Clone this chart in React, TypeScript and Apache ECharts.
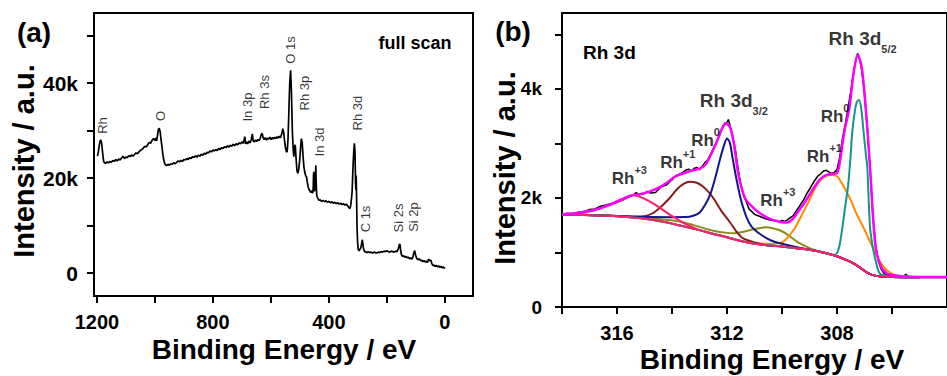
import React, { useEffect, useRef } from 'react';
import * as echarts from 'echarts';

const FONT = '"Liberation Sans", Arial, Helvetica, sans-serif';

// ---------- Panel (a): full survey scan ----------
const surveyScan: [number, number][] = [
  [1198, 24600], [1195, 25500], [1192, 26800], [1189, 27800], [1186, 28000], [1183, 27000], [1180, 25200],
  [1177, 23600], [1174, 23200], [1170, 23100], [1165, 23400], [1160, 23200], [1155, 23500], [1150, 23300],
  [1145, 23700], [1140, 23500], [1135, 23900], [1130, 23600], [1125, 24000], [1120, 23800], [1115, 24200],
  [1110, 24600], [1105, 24100], [1100, 24400], [1095, 24300], [1090, 24700], [1085, 24500], [1080, 24900],
  [1075, 24600], [1070, 25000], [1065, 25300], [1060, 25100], [1055, 25500], [1050, 25800], [1045, 26000],
  [1040, 26300], [1035, 26700], [1030, 26500], [1025, 27000], [1020, 27500], [1015, 27300], [1010, 27900],
  [1005, 28300], [1000, 27900], [997, 28400], [994, 27800], [991, 29000], [988, 30200], [985, 30500],
  [982, 29800], [979, 28200], [976, 26800], [973, 25200], [970, 24000], [967, 23200], [964, 22800],
  [960, 22600], [955, 22900], [950, 22700], [945, 23000], [940, 22900], [935, 23200], [930, 23000],
  [925, 23300], [920, 23600], [915, 23400], [910, 23700], [905, 23500], [900, 23900], [895, 23800],
  [890, 24100], [885, 23900], [880, 24300], [875, 24100], [870, 24500], [865, 24300], [860, 24700],
  [855, 24400], [850, 24800], [845, 24600], [840, 25000], [835, 24800], [830, 25200], [825, 25000],
  [820, 25400], [815, 25300], [810, 25700], [805, 25500], [800, 25900], [795, 25700], [790, 26000],
  [785, 25800], [780, 26200], [775, 26000], [770, 26400], [765, 26200], [760, 26600], [755, 26400],
  [750, 26800], [745, 26500], [740, 26900], [735, 26700], [730, 27100], [725, 26800], [720, 27200],
  [715, 27000], [710, 27400], [705, 27200], [700, 27600], [695, 27300], [690, 28700], [687, 27200],
  [684, 27600], [680, 27200], [676, 27800], [672, 27400], [668, 28000], [664, 29300], [661, 27800],
  [657, 27600], [653, 28000], [649, 27700], [645, 28100], [641, 27900], [637, 28300], [633, 29200],
  [630, 29400], [627, 28500], [623, 28100], [619, 28500], [615, 28000], [611, 28400], [607, 28200],
  [603, 28600], [599, 28100], [595, 28500], [591, 28200], [587, 28600], [583, 28300], [579, 28700],
  [575, 28400], [571, 28800], [567, 28500], [563, 29200], [559, 30400], [556, 29600], [553, 28000],
  [550, 26500], [547, 25600], [544, 25500], [541, 28000], [538, 34000], [535, 40000], [532, 42700],
  [529, 38000], [526, 30000], [523, 26000], [521, 24500], [519, 26500], [516, 27000], [513, 24000],
  [510, 21500], [507, 21000], [504, 21800], [501, 23500], [498, 26000], [495, 28300], [492, 27500],
  [489, 24500], [486, 22300], [483, 21200], [480, 20500], [477, 20200], [474, 19000], [471, 18000],
  [468, 17500], [465, 17300], [462, 16900], [459, 17300], [456, 16800], [454, 17900], [453, 20500],
  [452, 21300], [451, 19000], [450, 17200], [448, 17600], [446, 21000], [445, 22700], [444, 19500],
  [442, 16400], [440, 16000], [437, 15600], [434, 15300], [430, 15400], [425, 15100], [420, 15300],
  [415, 15000], [410, 15200], [405, 14900], [400, 15100], [395, 14800], [390, 15000], [385, 14700],
  [380, 14900], [375, 14600], [370, 14800], [365, 14500], [360, 14700], [355, 14400], [350, 14600],
  [345, 14300], [340, 14500], [335, 14100], [330, 13700], [327, 13600], [324, 14500], [320, 17000],
  [317, 22000], [314, 26000], [312, 27300], [310, 25500], [308, 19000], [307, 17500], [306, 20500],
  [305, 18000], [303, 10000], [301, 6500], [299, 5000], [296, 4700], [293, 5000], [290, 5300],
  [287, 6200], [285, 7000], [283, 6300], [281, 5200], [279, 4800], [276, 4500], [272, 4400],
  [268, 4300], [264, 4500], [260, 4300], [255, 4400], [250, 4200], [245, 4400], [240, 4300],
  [235, 4200], [230, 4400], [225, 4300], [220, 4500], [215, 4400], [210, 4600], [205, 4500],
  [200, 4700], [195, 4500], [190, 4400], [185, 4600], [180, 4500], [175, 4400], [170, 4600],
  [165, 4500], [160, 5200], [157, 6000], [155, 6100], [153, 5000], [150, 3900], [146, 3500],
  [142, 3600], [138, 3300], [134, 3500], [130, 3200], [126, 3300], [122, 3000], [118, 3200],
  [114, 2900], [110, 3400], [107, 4300], [104, 4700], [101, 3800], [98, 3200], [95, 2900],
  [92, 2800], [88, 3000], [84, 2600], [80, 2700], [76, 2400], [72, 2600], [68, 2300], [64, 2500],
  [60, 2200], [56, 2900], [52, 2600], [48, 2700], [45, 2000], [42, 1600], [38, 1700], [34, 1400],
  [30, 1600], [26, 1300], [22, 1500], [18, 1200], [14, 1400], [10, 1100], [6, 1300], [2, 1000], [0, 1200],
];

const surveyPeakNames = ['Rh', 'O', 'In 3p', 'Rh 3s', 'O 1s', 'Rh 3p', 'In 3d', 'Rh 3d', 'C 1s', 'Si 2s', 'Si 2p'];
const surveyPeakAnchors: [number, number][] = [
  [1179, 31050], [979, 33050], [679, 34940], [621, 38100], [531, 46940], [483, 37890],
  [431, 27575], [300, 33680], [272, 11370], [159, 11580], [107, 11790],
];

const surveyXTicks = [0, 200, 400, 600, 800, 1000, 1200];
const surveyXLabels = [0, 400, 800, 1200];
const surveyYTicks = [0, 10000, 20000, 30000, 40000, 50000];
const surveyYLabels = [0, 20000, 40000];

// ---------- Panel (b): Rh 3d high resolution ----------
const rhRaw: [number, number][] = [
  [318.0, 1690], [317.8, 1720], [317.6, 1700], [317.4, 1740], [317.2, 1750], [317.0, 1790], [316.8, 1800],
  [316.6, 1850], [316.4, 1870], [316.2, 1900], [316.0, 1920], [315.8, 1960], [315.6, 2010], [315.4, 2060],
  [315.3, 2100], [315.2, 2060], [315.0, 2080], [314.9, 2120], [314.8, 2090], [314.6, 2100], [314.5, 2150],
  [314.4, 2200], [314.2, 2240], [314.1, 2290], [314.0, 2330], [313.9, 2390], [313.8, 2420], [313.6, 2470],
  [313.5, 2510], [313.4, 2530], [313.3, 2490], [313.2, 2540], [313.1, 2560], [313.0, 2520], [312.9, 2580],
  [312.8, 2650], [312.7, 2700], [312.6, 2800], [312.5, 2900], [312.4, 3000], [312.3, 3120], [312.2, 3250],
  [312.1, 3340], [312.0, 3390], [311.95, 3440], [311.9, 3350], [311.8, 3150], [311.7, 2900], [311.6, 2550],
  [311.5, 2250], [311.4, 2050], [311.3, 1930], [311.2, 1800], [311.0, 1700], [310.8, 1660], [310.6, 1620],
  [310.4, 1590], [310.2, 1580], [310.1, 1560], [310.0, 1590], [309.9, 1570], [309.8, 1600], [309.7, 1640],
  [309.6, 1670], [309.5, 1750], [309.4, 1820], [309.3, 1900], [309.2, 1980], [309.1, 2080], [309.0, 2160],
  [308.9, 2250], [308.8, 2330], [308.7, 2400], [308.6, 2440], [308.5, 2490], [308.4, 2510], [308.3, 2480],
  [308.2, 2450], [308.1, 2470], [308.0, 2520], [307.9, 2750], [307.8, 3100], [307.7, 3350], [307.6, 3650],
  [307.5, 3950], [307.4, 4300], [307.3, 4560], [307.25, 4650], [307.2, 4600], [307.1, 4350], [307.0, 3900],
  [306.9, 3300], [306.8, 2550], [306.7, 1700], [306.6, 1150], [306.5, 850], [306.4, 700], [306.3, 620],
  [306.2, 590], [306.1, 575], [306.0, 560], [305.9, 570], [305.8, 545], [305.7, 550], [305.6, 540],
  [305.5, 600], [305.4, 560], [305.2, 550], [304.5, 550],
];

const rhEnvelope: [number, number][] = [
  [318.0, 1700], [317.5, 1720], [317.1, 1755], [316.7, 1800], [316.3, 1870], [315.9, 1960], [315.5, 2040],
  [315.2, 2070], [315.0, 2090], [314.7, 2140], [314.4, 2210], [314.1, 2310], [313.9, 2390], [313.6, 2450],
  [313.3, 2500], [313.0, 2540], [312.8, 2600], [312.6, 2780], [312.4, 3000], [312.2, 3250], [312.05, 3370],
  [311.9, 3310], [311.75, 3000], [311.6, 2470], [311.45, 2150], [311.3, 1960], [311.0, 1800], [310.8, 1720],
  [310.5, 1630], [310.1, 1565], [309.8, 1550], [309.6, 1620], [309.4, 1760], [309.2, 1900], [309.0, 2060],
  [308.8, 2220], [308.6, 2350], [308.4, 2420], [308.2, 2440], [308.0, 2460], [307.9, 2650], [307.8, 3000],
  [307.7, 3300], [307.55, 3650], [307.4, 4280], [307.25, 4620], [307.1, 4400], [306.95, 3620], [306.8, 2570],
  [306.6, 1110], [306.4, 740], [306.2, 620], [306.05, 590], [305.7, 565], [305.3, 556], [304.5, 550], [304.0, 550],
];

const rhBackground: [number, number][] = [
  [318.0, 1700], [317.5, 1695], [317.0, 1685], [316.5, 1675], [316.0, 1665], [315.5, 1645], [315.0, 1620],
  [314.5, 1585], [314.0, 1530], [313.5, 1470], [313.0, 1410], [312.5, 1340], [312.0, 1280], [311.5, 1210],
  [311.0, 1160], [310.5, 1130], [310.0, 1110], [309.5, 1080], [309.0, 1050], [308.5, 1000], [308.0, 930],
  [307.7, 870], [307.4, 800], [307.1, 700], [306.9, 630], [306.7, 585], [306.4, 560], [306.0, 550],
  [305.0, 545], [304.0, 545],
];

const rh3Plus32: [number, number][] = [
  [318.0, 1700], [317.5, 1720], [317.0, 1750], [316.5, 1830], [316.0, 1920], [315.7, 1990], [315.45, 2050],
  [315.2, 2030], [314.9, 1960], [314.5, 1840], [314.1, 1700], [313.8, 1610], [313.5, 1520], [313.2, 1450],
  [313.0, 1410],
];

const rh1Plus32: [number, number][] = [
  [318.0, 1700], [317.0, 1690], [316.0, 1670], [315.3, 1655], [315.0, 1665], [314.7, 1720], [314.4, 1840],
  [314.1, 1990], [313.8, 2170], [313.55, 2270], [313.35, 2300], [313.1, 2280], [312.9, 2220], [312.65, 2100],
  [312.45, 1963], [312.2, 1760], [311.9, 1560], [311.65, 1380], [311.45, 1270], [311.2, 1215], [311.0, 1185],
  [310.5, 1130], [310.0, 1110], [309.5, 1080], [309.0, 1050], [308.5, 1000], [308.0, 930], [307.7, 870],
  [307.4, 800], [307.1, 700], [306.9, 630], [306.7, 585], [306.4, 560], [306.0, 550], [305.0, 545],
];

const rh0Peak32: [number, number][] = [
  [318.0, 1700], [317.0, 1690], [316.0, 1670], [315.0, 1655], [314.0, 1648], [313.5, 1650], [313.2, 1680],
  [313.0, 1730], [312.8, 1870], [312.6, 2080], [312.4, 2420], [312.25, 2720], [312.1, 2980], [312.0, 3090],
  [311.9, 3020], [311.8, 2740], [311.65, 2330], [311.5, 1980], [311.3, 1660], [311.1, 1470], [310.8, 1340],
  [310.4, 1220], [310.0, 1160], [309.5, 1100], [309.0, 1050], [308.6, 1015], [308.3, 975], [308.0, 930],
  [307.7, 870], [307.4, 800], [307.1, 700], [306.9, 630], [306.7, 585], [306.4, 560], [306.0, 550], [305.0, 545],
];

const rh3Plus52: [number, number][] = [
  [318.0, 1700], [317.0, 1688], [316.0, 1670], [315.0, 1635], [314.0, 1590], [313.5, 1540], [313.0, 1470],
  [312.5, 1400], [312.0, 1360], [311.7, 1355], [311.4, 1380], [311.0, 1430], [310.6, 1462], [310.3, 1440],
  [310.0, 1390], [309.7, 1290], [309.4, 1180], [309.0, 1080], [308.6, 1010], [308.3, 975], [308.0, 930],
  [307.7, 870], [307.4, 800], [307.1, 700], [306.9, 630], [306.7, 585], [306.4, 560], [306.0, 550], [305.0, 545],
];

const rh1Plus52: [number, number][] = [
  [318.0, 1700], [317.0, 1685], [316.0, 1665], [315.0, 1620], [314.0, 1530], [313.0, 1410], [312.0, 1280],
  [311.0, 1165], [310.4, 1160], [310.0, 1185], [309.8, 1270], [309.6, 1400], [309.5, 1473], [309.25, 1720],
  [309.0, 1963], [308.8, 2180], [308.6, 2330], [308.4, 2405], [308.2, 2422], [308.0, 2400], [307.9, 2330],
  [307.7, 2160], [307.5, 1960], [307.3, 1720], [307.05, 1473], [306.8, 1200], [306.6, 985], [306.4, 800],
  [306.2, 679], [305.95, 600], [305.7, 569], [305.4, 556], [305.0, 545],
];

const rh0Peak52: [number, number][] = [
  [318.0, 1700], [317.0, 1685], [316.0, 1665], [315.0, 1620], [314.0, 1530], [313.0, 1410], [312.0, 1280],
  [311.0, 1160], [310.0, 1110], [309.0, 1050], [308.5, 1000], [308.15, 954], [308.0, 990], [307.9, 1150],
  [307.8, 1473], [307.7, 1850], [307.6, 2207], [307.5, 2800], [307.45, 3187], [307.35, 3600], [307.28, 3760],
  [307.2, 3798], [307.12, 3650], [307.05, 3300], [306.95, 2800], [306.9, 2574], [306.8, 1473], [306.7, 1100],
  [306.6, 862], [306.45, 618], [306.2, 569], [306.0, 550], [305.0, 545],
];

const rhPeakTexts = [
  { text: 'Rh', sup: '+3' }, { text: 'Rh', sup: '+1' }, { text: 'Rh', sup: '0' }, { text: 'Rh 3d', sub: '3/2' },
  { text: 'Rh', sup: '+3' }, { text: 'Rh', sup: '+1' }, { text: 'Rh', sup: '0' }, { text: 'Rh 3d', sub: '5/2' },
];
const rhPeakAnchors: [number, number][] = [
  [315.55, 2349], [313.79, 2652], [312.78, 3046], [311.75, 3780],
  [310.15, 1945], [308.46, 2753], [308.07, 3496], [307.07, 4927],
];

const rhXTicks = [306, 308, 310, 312, 314, 316, 318];
const rhXLabels = [308, 312, 316];
const rhYTicks = [0, 1000, 2000, 3000, 4000, 5000];
const rhYLabels = [0, 2000, 4000];

const kFormat = (v: number) => (v === 0 ? '0' : `${v / 1000}k`);

const axisLineStyle = { show: true, onZero: false, lineStyle: { color: '#000', width: 2 } };
const tickStyle = (vals: number[]) => ({
  show: true, inside: false, length: 7, customValues: vals, lineStyle: { color: '#000', width: 2 },
});
const labelStyle = (vals: number[], size: number, margin: number, fmt?: (v: number) => string) => ({
  show: true, customValues: vals, fontSize: size, fontWeight: 'bold', color: '#000', fontFamily: FONT, margin,
  formatter: fmt ? (v: number) => fmt(v) : (v: number) => String(v),
});

const lineSeries = (data: [number, number][], color: string, width: number, grid: number, smooth: number | boolean) => ({
  type: 'line', xAxisIndex: grid, yAxisIndex: grid, data, symbol: 'none', showSymbol: false, smooth,
  lineStyle: { color, width }, itemStyle: { color }, silent: true, z: 2,
});

export default function App() {
  const ref = useRef<HTMLDivElement>(null);
  useEffect(() => {
    if (!ref.current) return;
    const chart = echarts.init(ref.current, undefined, { renderer: 'svg' });
    const boldText = (size: number) => `bold ${size}px ${FONT}`;
    const option: any = {
      animation: false,
      backgroundColor: '#fff',
      grid: [
        { left: 94, top: 13, width: 379, height: 283, show: true, borderColor: '#000', borderWidth: 2, containLabel: false },
        { left: 562, top: 13, width: 421, height: 294, show: true, borderColor: '#000', borderWidth: 2, containLabel: false },
      ],
      xAxis: [
        {
          gridIndex: 0, type: 'value', min: -97, max: 1210, inverse: true,
          axisLine: axisLineStyle, axisTick: tickStyle(surveyXTicks),
          axisLabel: labelStyle(surveyXLabels, 20, 16), splitLine: { show: false },
        },
        {
          gridIndex: 1, type: 'value', min: 304, max: 318, inverse: true,
          axisLine: axisLineStyle, axisTick: tickStyle(rhXTicks),
          axisLabel: labelStyle(rhXLabels, 20, 16), splitLine: { show: false },
        },
      ],
      yAxis: [
        {
          gridIndex: 0, type: 'value', min: -4840, max: 54740,
          axisLine: axisLineStyle, axisTick: tickStyle(surveyYTicks),
          axisLabel: labelStyle(surveyYLabels, 21, 16, kFormat), splitLine: { show: false },
        },
        {
          gridIndex: 1, type: 'value', min: 0, max: 5394,
          axisLine: axisLineStyle, axisTick: tickStyle(rhYTicks),
          axisLabel: labelStyle(rhYLabels, 19, 20, kFormat), splitLine: { show: false },
        },
      ],
      series: [
        lineSeries(surveyScan, '#000', 1.7, 0, false),
        {
          type: 'scatter', xAxisIndex: 0, yAxisIndex: 0, symbolSize: 1, silent: true,
          itemStyle: { color: 'rgba(0,0,0,0)' },
          data: surveyPeakAnchors.map((p, i) => ({ name: surveyPeakNames[i], value: p })),
          label: {
            show: true, position: 'inside', rotate: 90, formatter: '{b}',
            fontSize: 13, color: '#000', fontFamily: FONT,
          },
        },
        lineSeries(rhRaw, '#000', 1.5, 1, false),
        lineSeries(rhBackground, '#1a1a8c', 2, 1, 0.3),
        lineSeries(rh3Plus52, '#8c8c1e', 2, 1, 0.3),
        lineSeries(rh1Plus52, '#ff8a00', 2, 1, 0.3),
        lineSeries(rh1Plus32, '#8b1a1a', 2, 1, 0.3),
        lineSeries(rh0Peak32, '#14148f', 2, 1, 0.3),
        lineSeries(rh0Peak52, '#15968a', 2, 1, 0.3),
        lineSeries(rhBackground, '#ff1f6e', 2, 1, 0.3),
        lineSeries(rh3Plus32, '#ff1f6e', 2, 1, 0.3),
        lineSeries(rhEnvelope, '#ff00ff', 2.5, 1, 0.3),
        {
          type: 'scatter', xAxisIndex: 1, yAxisIndex: 1, symbolSize: 1, silent: true,
          itemStyle: { color: 'rgba(0,0,0,0)' },
          data: rhPeakAnchors.map((p) => ({ value: p })),
          label: {
            show: true, position: 'inside', color: '#000',
            formatter: (p: any) => {
              const l: any = rhPeakTexts[p.dataIndex];
              return l.sup !== undefined ? `{m|${l.text}}{sup|${l.sup}}` : `{t|${l.text}}{sub|${l.sub}}`;
            },
            rich: {
              m: { fontSize: 17, fontWeight: 'bold', lineHeight: 28, fontFamily: FONT, color: '#000' },
              sup: { fontSize: 11, fontWeight: 'bold', lineHeight: 12, verticalAlign: 'top', fontFamily: FONT, color: '#000' },
              t: { fontSize: 19, fontWeight: 'bold', lineHeight: 32, fontFamily: FONT, color: '#000' },
              sub: { fontSize: 11, fontWeight: 'bold', lineHeight: 12, verticalAlign: 'bottom', fontFamily: FONT, color: '#000' },
            },
          },
        },
      ],
      graphic: [
        { type: 'text', x: 34, y: 32, style: { text: '(a)', font: boldText(28), align: 'center', verticalAlign: 'middle', fill: '#000' } },
        { type: 'text', x: 513, y: 31, style: { text: '(b)', font: boldText(28), align: 'center', verticalAlign: 'middle', fill: '#000' } },
        { type: 'text', x: 415, y: 43, style: { text: 'full scan', font: boldText(18), align: 'center', verticalAlign: 'middle', fill: '#000' } },
        { type: 'text', x: 583, y: 52, style: { text: 'Rh 3d', font: boldText(19), align: 'left', verticalAlign: 'middle', fill: '#000' } },
        { type: 'text', x: 284, y: 349, style: { text: 'Binding Energy / eV', font: boldText(28), align: 'center', verticalAlign: 'middle', fill: '#000' } },
        { type: 'text', x: 772, y: 359, style: { text: 'Binding Energy / eV', font: boldText(28), align: 'center', verticalAlign: 'middle', fill: '#000' } },
        { type: 'text', x: 24, y: 161, rotation: Math.PI / 2, style: { text: 'Intensity / a.u.', font: boldText(29), align: 'center', verticalAlign: 'middle', fill: '#000' } },
        { type: 'text', x: 505, y: 168, rotation: Math.PI / 2, style: { text: 'Intensity / a.u.', font: boldText(29), align: 'center', verticalAlign: 'middle', fill: '#000' } },
      ],
    };
    chart.setOption(option);
    return () => chart.dispose();
  }, []);
  return (
    <div
      ref={ref}
      style={{ position: 'absolute', left: 0, top: 0, width: 947, height: 376, overflow: 'hidden' }}
    />
  );
}
